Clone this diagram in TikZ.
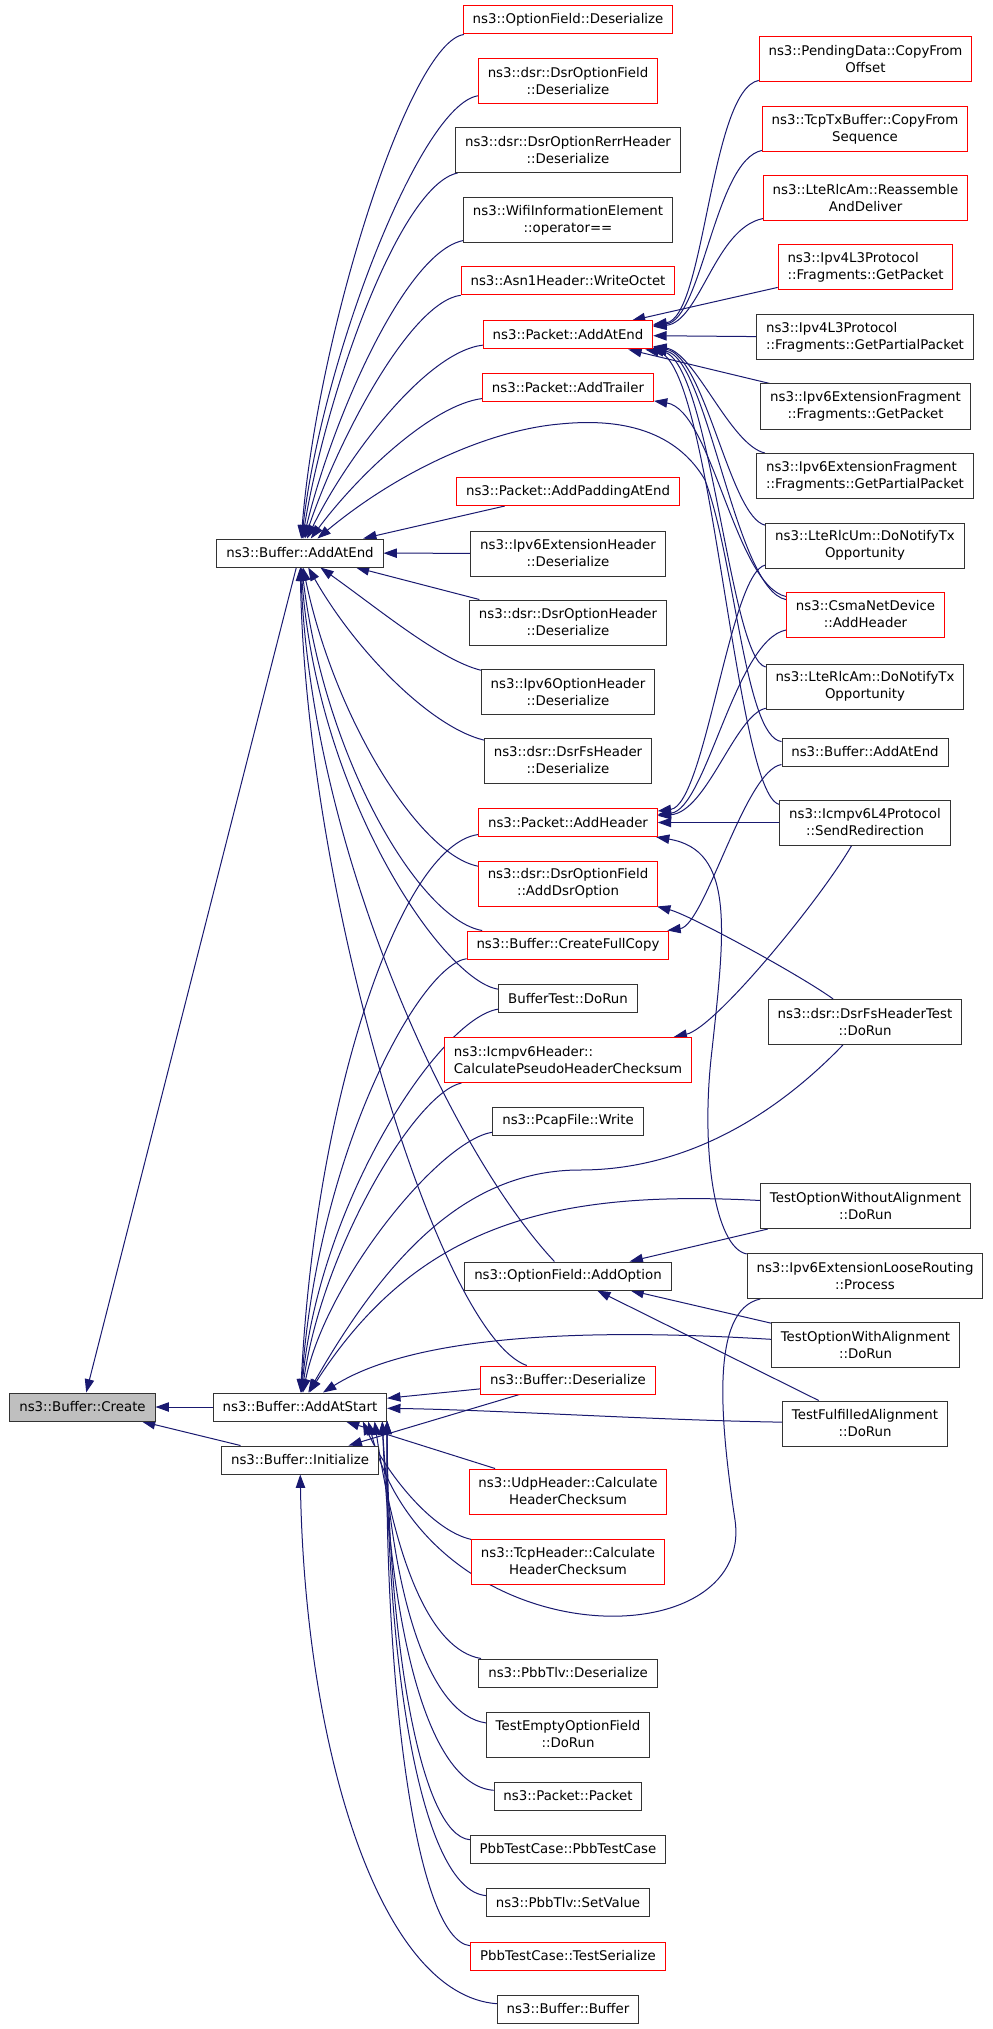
\documentclass[tikz,border=0pt]{standalone}
\usepackage{fontspec}
\setmainfont{DejaVu Sans}
\usetikzlibrary{arrows.meta,backgrounds}
\definecolor{edgeblue}{HTML}{191970}
\definecolor{selfgray}{HTML}{BFBFBF}

\begin{document}
\begin{tikzpicture}[x=0.75pt,y=-0.75pt,
            fn/.style={draw=black!80,fill=white,line width=0.75pt,inner xsep=7pt,inner ysep=2pt,
                minimum height=21pt,align=center,font=\fontsize{10}{12.75}\selectfont},
            hot/.style={fn,draw=red},
            self/.style={fn,fill=selfgray},
            two/.style={minimum height=33.75pt},
            lft/.style={align=left},
            call/.style={draw=edgeblue,line width=0.75pt,-{Triangle[length=10pt,width=7pt]}}]
            \useasboundingbox (0,0) rectangle (992,2029);
            \node[self] (create) at (82.5,1407) {ns3::Buffer::Create};
            \node[fn] (bufend) at (300,553) {ns3::Buffer::AddAtEnd};
            \node[fn] (bufstart) at (300,1407) {ns3::Buffer::AddAtStart};
            \node[fn] (bufinit) at (300,1460) {ns3::Buffer::Initialize};

            \node[hot] (ofdes) at (568,20) {ns3::OptionField::Deserialize};
            \node[hot,two] (dsrofdes) at (568,81.5) {ns3::dsr::DsrOptionField\\::Deserialize};
            \node[fn,two] (rerrdes) at (568,150) {ns3::dsr::DsrOptionRerrHeader\\::Deserialize};
            \node[fn,two] (wifiop) at (568,220) {ns3::WifiInformationElement\\::operator==};
            \node[hot] (asnwrite) at (568,281) {ns3::Asn1Header::WriteOctet};
            \node[hot] (pktend) at (568,335) {ns3::Packet::AddAtEnd};
            \node[hot] (pkttrail) at (568,387.5) {ns3::Packet::AddTrailer};
            \node[hot] (pktpad) at (568,491.5) {ns3::Packet::AddPaddingAtEnd};
            \node[fn,two] (ipv6exthdr) at (568,553.5) {ns3::Ipv6ExtensionHeader\\::Deserialize};
            \node[fn,two] (dsrohdr) at (568,622.5) {ns3::dsr::DsrOptionHeader\\::Deserialize};
            \node[fn,two] (ipv6opthdr) at (568,692) {ns3::Ipv6OptionHeader\\::Deserialize};
            \node[fn,two] (dsrfsdes) at (568,760.5) {ns3::dsr::DsrFsHeader\\::Deserialize};
            \node[hot] (pkthdr) at (568,822.5) {ns3::Packet::AddHeader};
            \node[hot,two] (adddsr) at (568,883.5) {ns3::dsr::DsrOptionField\\::AddDsrOption};
            \node[hot] (fullcopy) at (568,945) {ns3::Buffer::CreateFullCopy};
            \node[fn] (buftest) at (568,998.5) {BufferTest::DoRun};
            \node[hot,two,lft] (icmpsum) at (568,1060) {ns3::Icmpv6Header::\\CalculatePseudoHeaderChecksum};
            \node[fn] (pcapwrite) at (568,1121) {ns3::PcapFile::Write};
            \node[fn] (addopt) at (568,1276) {ns3::OptionField::AddOption};
            \node[hot] (bufdes) at (568,1380) {ns3::Buffer::Deserialize};
            \node[hot,two] (udpsum) at (568,1491.5) {ns3::UdpHeader::Calculate\\HeaderChecksum};
            \node[hot,two] (tcpsum) at (568,1561.5) {ns3::TcpHeader::Calculate\\HeaderChecksum};
            \node[fn] (pbbdes) at (568,1673) {ns3::PbbTlv::Deserialize};
            \node[fn,two] (emptyopt) at (568,1734.5) {TestEmptyOptionField\\::DoRun};
            \node[fn] (pktpkt) at (568,1796) {ns3::Packet::Packet};
            \node[fn] (pbbcase) at (568,1849) {PbbTestCase::PbbTestCase};
            \node[fn] (pbbset) at (568,1902.5) {ns3::PbbTlv::SetValue};
            \node[hot] (pbbser) at (568,1956) {PbbTestCase::TestSerialize};
            \node[fn] (bufbuf) at (568,2009) {ns3::Buffer::Buffer};

            \node[hot,two] (pendcopy) at (865.5,59.5) {ns3::PendingData::CopyFrom\\Offset};
            \node[hot,two] (tcpcopy) at (865,129.5) {ns3::TcpTxBuffer::CopyFrom\\Sequence};
            \node[hot,two] (rlcreasm) at (865.5,198.5) {ns3::LteRlcAm::Reassemble\\AndDeliver};
            \node[hot,two,lft] (v4getpkt) at (865.5,267.5) {ns3::Ipv4L3Protocol\\::Fragments::GetPacket};
            \node[fn,two,lft] (v4getpart) at (865,337.5) {ns3::Ipv4L3Protocol\\::Fragments::GetPartialPacket};
            \node[fn,two] (v6getpkt) at (865.5,406.5) {ns3::Ipv6ExtensionFragment\\::Fragments::GetPacket};
            \node[fn,two,lft] (v6getpart) at (865,476) {ns3::Ipv6ExtensionFragment\\::Fragments::GetPartialPacket};
            \node[fn,two] (umtx) at (865,545.5) {ns3::LteRlcUm::DoNotifyTx\\Opportunity};
            \node[hot,two] (csmahdr) at (865.5,614.5) {ns3::CsmaNetDevice\\::AddHeader};
            \node[fn,two] (amtx) at (865,686.5) {ns3::LteRlcAm::DoNotifyTx\\Opportunity};
            \node[fn] (bufend2) at (865,752) {ns3::Buffer::AddAtEnd};
            \node[fn,two] (redirect) at (865,822.5) {ns3::Icmpv6L4Protocol\\::SendRedirection};
            \node[fn,two] (dsrfstest) at (865,1022) {ns3::dsr::DsrFsHeaderTest\\::DoRun};
            \node[fn,two] (woalign) at (865.5,1206) {TestOptionWithoutAlignment\\::DoRun};
            \node[fn,two] (looseroute) at (865,1276) {ns3::Ipv6ExtensionLooseRouting\\::Process};
            \node[fn,two] (walign) at (865.5,1345) {TestOptionWithAlignment\\::DoRun};
            \node[fn,two] (fulfilled) at (865,1423.5) {TestFulfilledAlignment\\::DoRun};

            \begin{scope}[on background layer]
            \fill[white] (0,0) rectangle (992,2029);
            % callers of Buffer::Create
            \draw[call] (bufend) -- (create);
            \draw[call] (bufstart) -- (create);
            \draw[call] (bufinit) -- (create);
            % callers of Buffer::AddAtEnd
            \draw[call] (ofdes) .. controls (410,42) and (318,330) .. (bufend);
            \draw[call] (dsrofdes) .. controls (420,105) and (322,360) .. (bufend);
            \draw[call] (rerrdes) .. controls (400,185) and (327,390) .. (bufend);
            \draw[call] (wifiop) .. controls (405,252) and (332,420) .. (bufend);
            \draw[call] (asnwrite) .. controls (410,302) and (338,440) .. (bufend);
            \draw[call] (pktend) .. controls (425,352) and (345,460) .. (bufend);
            \draw[call] (pkttrail) .. controls (432,405) and (358,475) .. (bufend);
            \draw[call] (bufend2) .. controls (745,737) and (735,560) .. (705,480)
                .. controls (670,420) and (600,420) .. (560,424)
                .. controls (490,430) and (400,470) .. (bufend);
            \draw[call] (pktpad) -- (bufend);
            \draw[call] (ipv6exthdr) -- (bufend);
            \draw[call] (dsrohdr) -- (bufend);
            \draw[call] (ipv6opthdr) .. controls (440,660) and (380,610) .. (bufend);
            \draw[call] (dsrfsdes) .. controls (430,727) and (355,650) .. (bufend);
            \draw[call] (adddsr) .. controls (420,855) and (335,720) .. (bufend);
            \draw[call] (fullcopy) .. controls (420,920) and (325,760) .. (bufend);
            \draw[call] (buftest) .. controls (445,982) and (318,800) .. (bufend);
            \draw[call] (addopt) .. controls (450,1150) and (312,850) .. (bufend);
            \draw[call] (bufdes) .. controls (440,1335) and (306,900) .. (bufend);
            % callers of Buffer::AddAtStart
            \draw[call] (pkthdr) .. controls (400,845) and (315,1100) .. (bufstart);
            \draw[call] (fullcopy) .. controls (420,965) and (318,1150) .. (bufstart);
            \draw[call] (buftest) .. controls (440,1018) and (320,1200) .. (bufstart);
            \draw[call] (icmpsum) .. controls (415,1093) and (322,1250) .. (bufstart);
            \draw[call] (pcapwrite) .. controls (440,1140) and (326,1280) .. (bufstart);
            \draw[call] (dsrfstest) .. controls (790,1100) and (700,1170) .. (580,1170)
                .. controls (470,1170) and (390,1250) .. (bufstart);
            \draw[call] (woalign) .. controls (560,1190) and (420,1220) .. (bufstart);
            \draw[call] (walign) .. controls (650,1332) and (430,1325) .. (bufstart);
            \draw[call] (fulfilled) .. controls (650,1420) and (500,1410) .. (bufstart);
            \draw[call] (bufdes) -- (bufstart);
            \draw[call] (udpsum) -- (bufstart);
            \draw[call] (tcpsum) .. controls (430,1530) and (385,1470) .. (bufstart.-13);
            \draw[call] (looseroute) .. controls (710,1310) and (720,1420) .. (735,1520)
                .. controls (755,1660) and (430,1660) .. (bufstart.-12);
            \draw[call] (pbbdes) .. controls (430,1650) and (395,1560) .. (bufstart.-11);
            \draw[call] (emptyopt) .. controls (430,1715) and (392,1600) .. (bufstart.-10.5);
            \draw[call] (pktpkt) .. controls (425,1785) and (390,1620) .. (bufstart.-10);
            \draw[call] (pbbcase) .. controls (420,1835) and (388,1640) .. (bufstart.-9.7);
            \draw[call] (pbbset) .. controls (420,1890) and (386,1660) .. (bufstart.-9.4);
            \draw[call] (pbbser) .. controls (415,1940) and (384,1680) .. (bufstart.-9.1);
            % callers of Buffer::Initialize
            \draw[call] (bufdes) -- (bufinit);
            \draw[call] (bufbuf) .. controls (380,1995) and (305,1750) .. (bufinit);
            % callers of Packet::AddAtEnd
            \draw[call] (pendcopy) .. controls (710,90) and (705,318) .. (pktend);
            \draw[call] (tcpcopy) .. controls (715,160) and (702,320) .. (pktend);
            \draw[call] (rlcreasm) .. controls (715,228) and (700,322) .. (pktend);
            \draw[call] (v4getpkt) -- (pktend);
            \draw[call] (v4getpart) -- (pktend);
            \draw[call] (v6getpkt) -- (pktend);
            \draw[call] (v6getpart) .. controls (730,445) and (695,352) .. (pktend);
            \draw[call] (umtx) .. controls (730,518) and (705,355) .. (pktend);
            \draw[call] (csmahdr) .. controls (735,590) and (708,358) .. (pktend);
            \draw[call] (amtx) .. controls (730,660) and (710,360) .. (pktend);
            \draw[call] (redirect) .. controls (735,795) and (712,362) .. (pktend);
            \draw[call] (csmahdr) .. controls (735,585) and (712,410) .. (pkttrail);
            % callers of Packet::AddHeader
            \draw[call] (umtx) .. controls (730,572) and (705,805) .. (pkthdr);
            \draw[call] (csmahdr) .. controls (735,640) and (706,810) .. (pkthdr);
            \draw[call] (amtx) .. controls (735,715) and (707,812) .. (pkthdr);
            \draw[call] (redirect) -- (pkthdr);
            \draw[call] (looseroute) .. controls (715,1248) and (700,1150) .. (712,1050)
                .. controls (725,930) and (735,850) .. (pkthdr);
            % the rest
            \draw[call] (bufend2) .. controls (745,770) and (705,925) .. (fullcopy);
            \draw[call] (dsrfstest) .. controls (800,975) and (690,915) .. (adddsr);
            \draw[call] (redirect) .. controls (820,900) and (715,1028) .. (icmpsum);
            \draw[call] (woalign) -- (addopt);
            \draw[call] (walign) -- (addopt);
            \draw[call] (fulfilled) -- (addopt);
            \end{scope}
        \end{tikzpicture}
\end{document}
